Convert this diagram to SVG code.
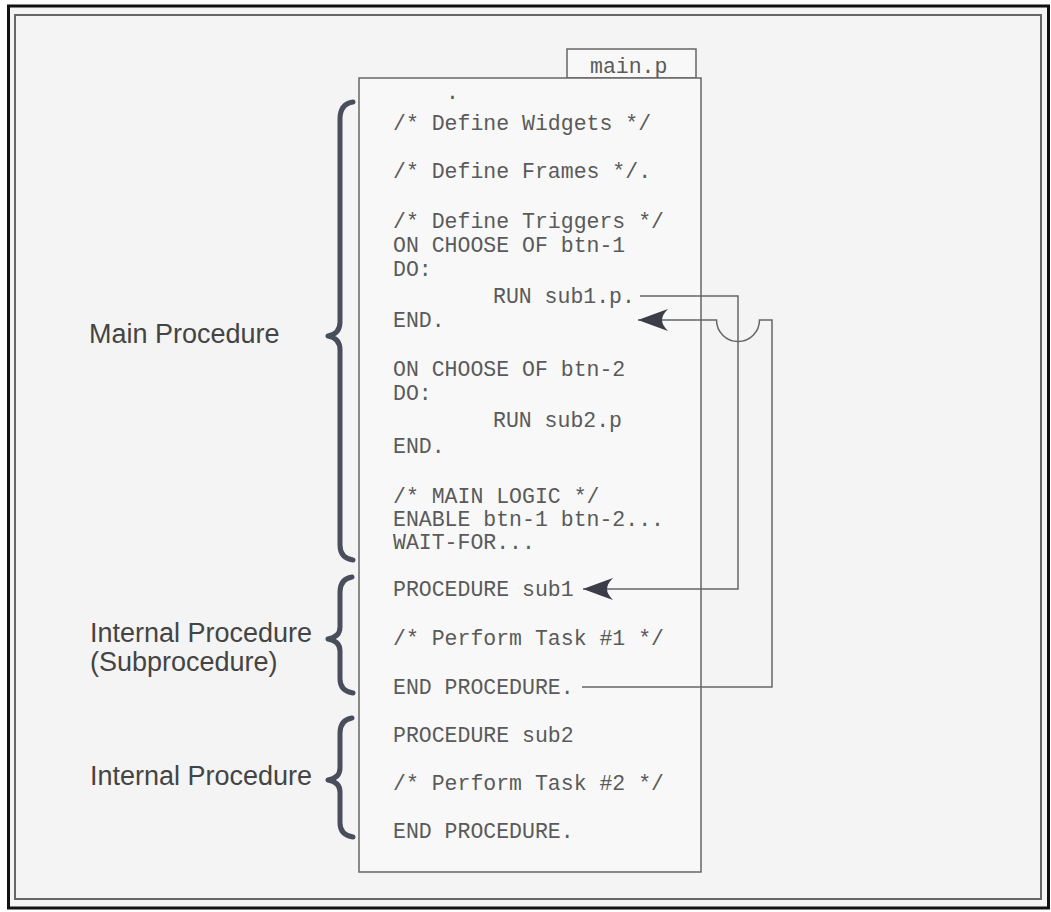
<svg xmlns="http://www.w3.org/2000/svg" width="1051" height="912" viewBox="0 0 1051 912">
  <style>
    .code { font-family: "Liberation Mono", "DejaVu Sans Mono", monospace; font-size: 21.5px; fill: #5a5a5a; }
    .label { font-family: "Liberation Sans", Arial, sans-serif; font-size: 27px; fill: #444; }
    .box { fill: #f8f8f8; stroke: #666; stroke-width: 1.5; }
    .conn { fill: none; stroke: #666; stroke-width: 1.5; }
    .brace { fill: none; stroke: #4a4d5c; stroke-width: 5; stroke-linecap: round; stroke-linejoin: round; }
  </style>
  <defs>
    <marker id="arrow" viewBox="0 0 30 22" refX="30" refY="11" markerWidth="30" markerHeight="22" markerUnits="userSpaceOnUse" orient="auto">
      <path d="M30,11 Q14,5 0,0 Q6,6 6,11 Q6,16 0,22 Q14,17 30,11 Z" fill="#3c3d48"/>
    </marker>
  </defs>

  <rect x="0" y="0" width="1051" height="912" fill="#ffffff"/>
  <g id="frame">
    <rect x="8.5" y="6" width="1040" height="902" fill="#f4f4f4" stroke="#111" stroke-width="3"/>
    <rect x="15" y="15" width="1026" height="884" fill="none" stroke="#666" stroke-width="2"/>
  </g>

  <g id="main-file">
    <rect class="box" x="567" y="49" width="129" height="29"/>
    <text class="code" x="590" y="73">main.p</text>
    <rect class="box" x="359" y="78" width="342" height="794"/>
  </g>

  <g id="main-procedure-code">
    <text class="code" x="446" y="99">.</text>
    <text class="code" x="393" y="130">/* Define Widgets */</text>
    <text class="code" x="393" y="178">/* Define Frames */.</text>
    <text class="code" x="393" y="228">/* Define Triggers */</text>
    <text class="code" x="393" y="252">ON CHOOSE OF btn-1</text>
    <text class="code" x="393" y="276">DO:</text>
    <text class="code" x="493" y="303">RUN sub1.p.</text>
    <text class="code" x="393" y="327">END.</text>
    <text class="code" x="393" y="376">ON CHOOSE OF btn-2</text>
    <text class="code" x="393" y="400">DO:</text>
    <text class="code" x="493" y="427">RUN sub2.p</text>
    <text class="code" x="393" y="453">END.</text>
    <text class="code" x="393" y="503">/* MAIN LOGIC */</text>
    <text class="code" x="393" y="526">ENABLE btn-1 btn-2...</text>
    <text class="code" x="393" y="549">WAIT-FOR...</text>
  </g>

  <g id="sub1-code">
    <text class="code" x="393" y="596">PROCEDURE sub1</text>
    <text class="code" x="393" y="645">/* Perform Task #1 */</text>
    <text class="code" x="393" y="694">END PROCEDURE.</text>
  </g>

  <g id="sub2-code">
    <text class="code" x="393" y="742">PROCEDURE sub2</text>
    <text class="code" x="393" y="790">/* Perform Task #2 */</text>
    <text class="code" x="393" y="838">END PROCEDURE.</text>
  </g>

  <g id="main-procedure-label">
    <path class="brace" d="M353,102 Q340,104 340,119 L340,322 Q340,334 328,336 Q340,338 340,350 L340,545 Q340,558 353,560"/>
    <text class="label" x="89" y="343">Main Procedure</text>
  </g>

  <g id="internal-procedure-1-label">
    <path class="brace" d="M352,577 Q340,579 340,592 L340,627 Q340,637 328,639 Q340,641 340,651 L340,679 Q340,691 353,693"/>
    <text class="label" x="90" y="642">Internal Procedure</text>
    <text class="label" x="90" y="671">(Subprocedure)</text>
  </g>

  <g id="internal-procedure-2-label">
    <path class="brace" d="M352,718 Q340,720 340,733 L340,768 Q340,778 328,780 Q340,782 340,792 L340,823 Q340,835 353,837"/>
    <text class="label" x="90" y="785">Internal Procedure</text>
  </g>

  <g id="connectors">
    <path class="conn" d="M640,296 H738 V589 H583" marker-end="url(#arrow)"/>
    <path class="conn" d="M582,687 H772 V320 H759.5 A21.5,21.5 0 0 1 716.5,320 H638" marker-end="url(#arrow)"/>
  </g>
</svg>
